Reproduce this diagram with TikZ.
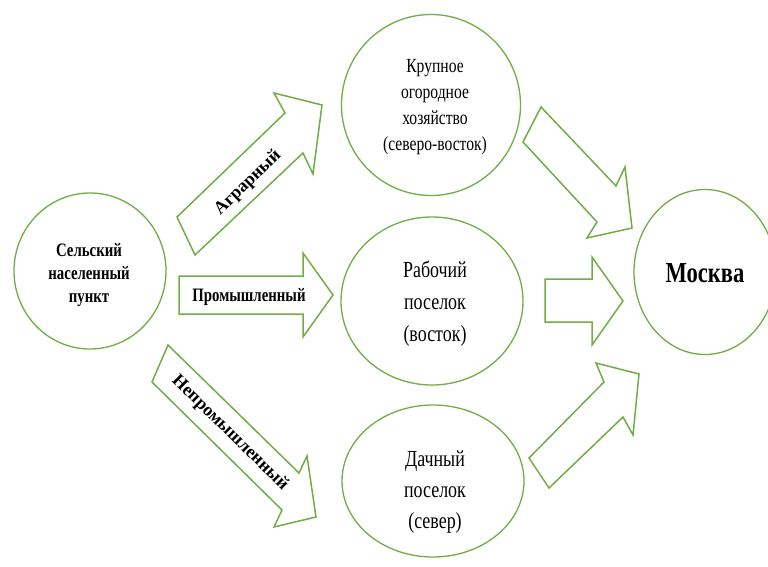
\documentclass[tikz,border=0pt]{standalone}
\usepackage{fontspec}
\setmainfont{Liberation Serif}
\usetikzlibrary{shapes.geometric}
\definecolor{grn}{HTML}{70AD47}
\begin{document}
\begin{tikzpicture}[x=1pt,y=-1pt,
  circ/.style={draw=grn, line width=1.3pt, ellipse, inner sep=0pt},
  barrow/.style={draw=grn, line width=1.5pt, line join=miter},
  txt/.style={align=center, inner sep=0pt, xscale=0.78},
  lbl/.style={txt, font=\bfseries\fontsize{19}{19}\selectfont},
  dlbl/.style={align=center, inner sep=0pt, font=\bfseries\fontsize{18}{18}\selectfont},
]
\useasboundingbox (0,0) rectangle (768,567);
\clip (0,0) rectangle (768,567);

% circles
\node[circ, minimum width=152pt, minimum height=156pt] (src) at (90,271) {};
\node[circ, minimum width=179pt, minimum height=181pt] (veg) at (431,105) {};
\node[circ, minimum width=182pt, minimum height=168pt] (work) at (432,301) {};
\node[circ, minimum width=182pt, minimum height=152pt] (dacha) at (433,481) {};
\node[circ, minimum width=142pt, minimum height=165pt] (msk) at (705,272) {};

% circle texts
\node[txt, font=\bfseries\fontsize{19}{23}\selectfont] (srct) at (89,275) {Сельский\\населенный\\пункт};
\node[txt, font=\fontsize{20}{26}\selectfont] (vegt) at (435,107) {Крупное\\огородное\\хозяйство\\(северо-восток)};
\node[txt, font=\fontsize{23}{32}\selectfont] (workt) at (435,304) {Рабочий\\поселок\\(восток)};
\node[txt, font=\fontsize{23}{31}\selectfont] (dachat) at (435,492) {Дачный\\поселок\\(север)};
\node[txt, font=\bfseries\fontsize{29}{29}\selectfont] (mskt) at (705,273) {Москва};

% block arrows
\draw[barrow] (177,217) -- (285,113) -- (274,93) -- (322,105) -- (313,174) -- (303,153) -- (195,255) -- cycle;
\draw[barrow] (179,276) -- (303,276) -- (303,253) -- (333,295) -- (303,337) -- (303,314) -- (179,314) -- cycle;
\draw[barrow] (168,345) -- (299,473) -- (307,456) -- (316,517) -- (274,527) -- (282,510) -- (152,382) -- cycle;
\draw[barrow] (541,107) -- (616,186) -- (625,167) -- (632,228) -- (587,238) -- (597,222) -- (523,142) -- cycle;
\draw[barrow] (545,279) -- (592,279) -- (592,257) -- (623,301) -- (592,345) -- (592,322) -- (545,322) -- cycle;
\draw[barrow] (529,458) -- (604,382) -- (596,363) -- (639,374) -- (633,435) -- (623,417) -- (549,488) -- cycle;

% arrow labels
\node[dlbl, rotate=44] (l1) at (248,183) {Аграрный};
\node[lbl] (l2) at (249,297) {Промышленный};
\node[dlbl, rotate=-44.5] (l3) at (230,433) {Непромышленный};
\end{tikzpicture}
\end{document}
